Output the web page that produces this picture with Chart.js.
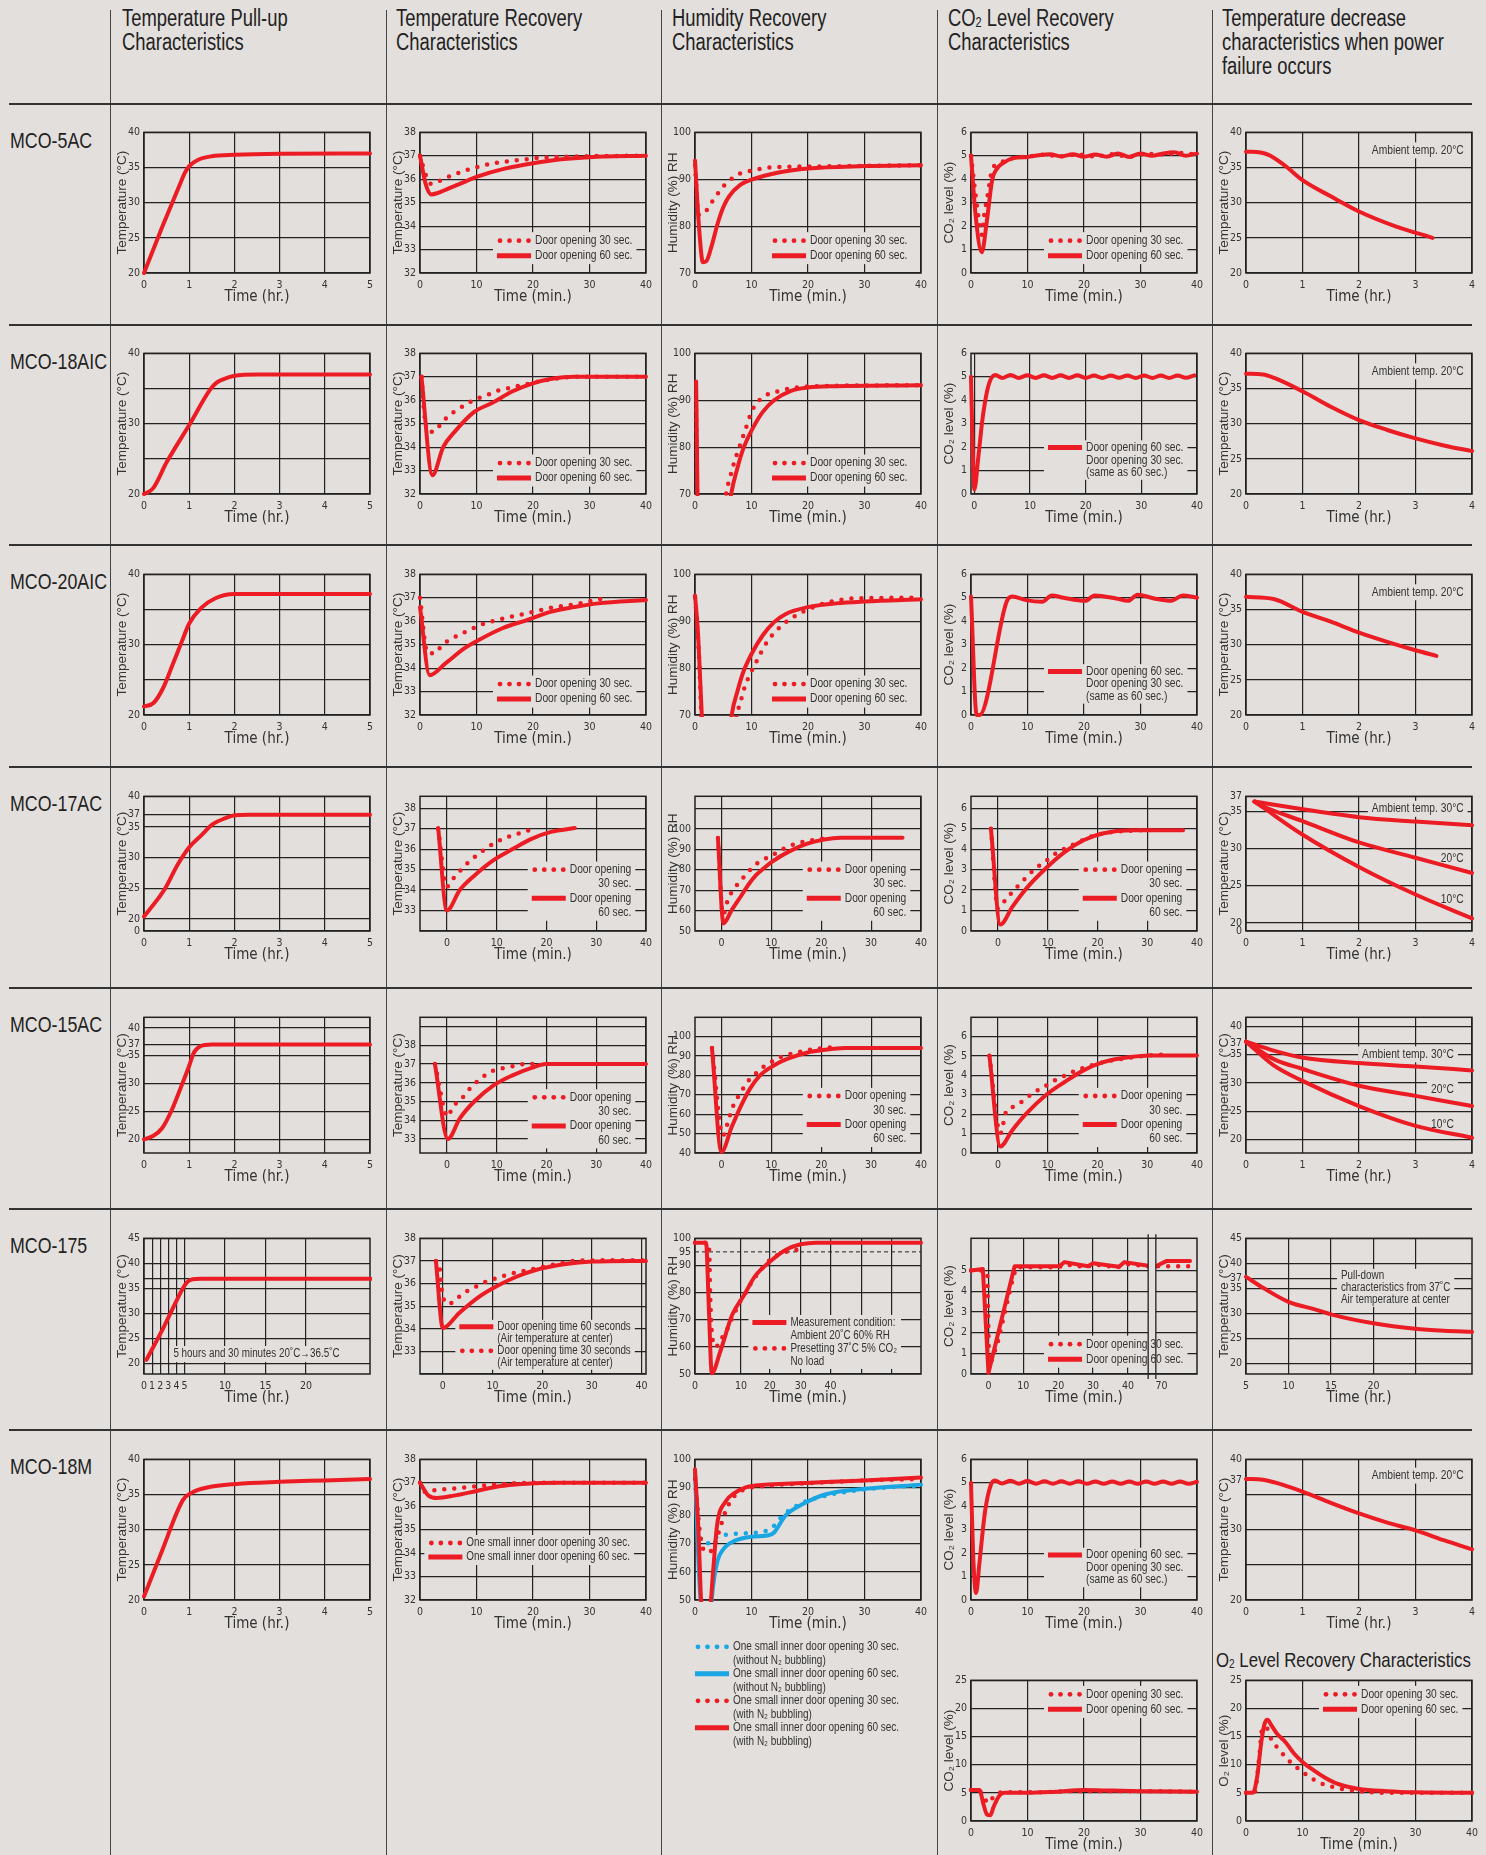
<!DOCTYPE html>
<html>
<head>
<meta charset="utf-8">
<title>MCO incubator characteristics</title>
<script src="https://cdn.jsdelivr.net/npm/chart.js@4.4.1/dist/chart.umd.min.js"></script>
<style>
  body { margin: 0; background: #e3dfdc; }
  #page { position: relative; width: 1486px; height: 1855px; overflow: hidden; color: #222;
          font-family: "Liberation Sans", Arial, sans-serif; }
  .hd { position: absolute; top: 6px; font-size: 23px; line-height: 24px; white-space: nowrap;
        transform: scaleX(0.8); transform-origin: 0 0; }
  .model { position: absolute; left: 10px; font-size: 22px; line-height: 24px; white-space: nowrap;
           transform: scaleX(0.81); transform-origin: 0 0; }
  .hl { position: absolute; left: 9px; width: 1463px; height: 2px; background: #333; }
  .vl { position: absolute; top: 10px; bottom: 0; width: 1px; background: #444; }
  canvas { position: absolute; }
  sub { font-size: 60%; vertical-align: -0.1em; line-height: 0; }
</style>
</head>
<body>
<div id="page">
  <div class="vl" style="left:110px"></div>
  <div class="vl" style="left:386px"></div>
  <div class="vl" style="left:661px"></div>
  <div class="vl" style="left:937px"></div>
  <div class="vl" style="left:1212px"></div>

  <div class="hl" style="top:103px"></div>
  <div class="hl" style="top:324px"></div>
  <div class="hl" style="top:544px"></div>
  <div class="hl" style="top:766px"></div>
  <div class="hl" style="top:987px"></div>
  <div class="hl" style="top:1208px"></div>
  <div class="hl" style="top:1429px"></div>

  <div class="hd" style="left:122px">Temperature Pull-up<br>Characteristics</div>
  <div class="hd" style="left:396px">Temperature Recovery<br>Characteristics</div>
  <div class="hd" style="left:672px">Humidity Recovery<br>Characteristics</div>
  <div class="hd" style="left:948px">CO<sub>2</sub> Level Recovery<br>Characteristics</div>
  <div class="hd" style="left:1222px">Temperature decrease<br>characteristics when power<br>failure occurs</div>
  <div class="hd" style="left:1216px; top:1648px; font-size:21px">O<sub>2</sub> Level Recovery Characteristics</div>

  <div class="model" style="top:129px">MCO-5AC</div>
  <div class="model" style="top:350px">MCO-18AIC</div>
  <div class="model" style="top:570px">MCO-20AIC</div>
  <div class="model" style="top:792px">MCO-17AC</div>
  <div class="model" style="top:1013px">MCO-15AC</div>
  <div class="model" style="top:1234px">MCO-175</div>
  <div class="model" style="top:1455px">MCO-18M</div>
</div>

<script>
// ---------- tick labels ----------
const hrTicks5 = [0, 1, 2, 3, 4, 5];
const hrLabels5 = ['0', '1', '2', '3', '4', '5'];
const hrTicks4 = [0, 1, 2, 3, 4];
const hrLabels4 = ['0', '1', '2', '3', '4'];
const minTicks = [0, 10, 20, 30, 40];
const minLabels = ['0', '10', '20', '30', '40'];
const tempTicks = [20, 25, 30, 35, 40];
const tempLabels = ['20', '25', '30', '35', '40'];
const tempLabelsSparse = ['20', '', '30', '', '40'];
const recTicks = [32, 33, 34, 35, 36, 37, 38];
const recLabels = ['32', '33', '34', '35', '36', '37', '38'];
const recLabelsNo32 = ['', '33', '34', '35', '36', '37', '38'];
const rhTicks = [70, 80, 90, 100];
const rhLabels = ['70', '80', '90', '100'];
const co2Ticks = [0, 1, 2, 3, 4, 5, 6];
const co2Labels = ['0', '1', '2', '3', '4', '5', '6'];

// ---------- MCO-5AC ----------
const ac5PullT = [0, 0.4, 0.8, 0.9, 1.0, 1.2, 1.5, 2, 3, 5];
const ac5PullY = [20, 26.5, 32.7, 34.2, 35.2, 36.1, 36.6, 36.8, 36.95, 37];
const ac5Rec60T = [0, 1, 2, 3, 5, 8, 10, 15, 20, 25, 30, 40];
const ac5Rec60Y = [37, 35.8, 35.35, 35.4, 35.6, 35.9, 36.1, 36.45, 36.68, 36.85, 36.94, 37];
const ac5Rec30T = [0, 1, 2, 3.8, 5.6, 7.5, 9.3, 11.1, 13, 15, 16.8, 18.8, 20.7, 25, 30, 40];
const ac5Rec30Y = [37, 36.2, 35.8, 35.96, 36.16, 36.33, 36.47, 36.58, 36.68, 36.74, 36.8, 36.85, 36.9, 36.95, 36.98, 37];
const ac5Hum60T = [0, 0.7, 1.4, 2, 3, 4, 5, 6, 8, 10, 15, 20, 30, 40];
const ac5Hum60Y = [94, 80, 72.3, 72.5, 76, 80.5, 84, 86.3, 88.8, 89.9, 91.5, 92.3, 92.8, 93];
const ac5Hum30T = [0, 0.66, 1.7, 2.8, 3.9, 5.1, 6.4, 8.1, 10, 12, 13.9, 20, 30, 40];
const ac5Hum30Y = [93, 82.4, 82.8, 84.8, 86.7, 88.6, 90, 91.3, 91.8, 92.3, 92.55, 92.7, 92.85, 93];
const ac5Co260T = [0, 0.8, 1.9, 2.8, 3.75, 4.6, 5.6, 7.5, 10, 12, 14, 16, 18, 20, 22, 24, 26, 28, 30, 32, 34, 36, 38, 40];
const ac5Co260Y = [5, 2.5, 0.88, 2.2, 3.97, 4.45, 4.68, 4.9, 4.95, 5.02, 5.06, 4.97, 5.06, 4.96, 5.05, 4.96, 5.1, 4.95, 5.1, 5.0, 5.1, 5.15, 5.0, 5.1];
const ac5Co230T = [0, 1.2, 1.9, 2.4, 2.8, 3.75, 5.2, 7.5, 10, 13, 16, 19, 22, 25, 28, 31, 34, 37, 40];
const ac5Co230Y = [5, 2.6, 1.63, 2.6, 3.1, 4.4, 4.7, 4.9, 4.97, 5.04, 4.98, 5.05, 4.97, 5.06, 4.96, 5.08, 5.05, 5.12, 5.05];
const ac5PwrT = [0, 0.1, 0.4, 0.7, 1.0, 1.5, 2.0, 2.66, 3.3];
const ac5PwrY = [37.25, 37.25, 36.8, 35.2, 33.2, 30.9, 28.75, 26.6, 25.0];

// ---------- MCO-18AIC ----------
const ai18PullT = [0, 0.2, 0.5, 1.0, 1.47, 1.6, 1.75, 2.0, 2.5, 5];
const ai18PullY = [20, 20.8, 24.5, 29.8, 34.9, 35.8, 36.3, 36.8, 37, 37];
const ai18Rec60T = [0.25, 2.2, 4.1, 6.2, 9.6, 12.9, 16.3, 19.7, 23.1, 27.3, 40];
const ai18Rec60Y = [37, 32.8, 34.0, 34.67, 35.5, 35.9, 36.37, 36.7, 36.9, 37, 37];
const ai18Rec30T = [0.3, 0.68, 0.93, 1.3, 2.4, 3.6, 5.1, 6.7, 8.3, 10, 11.7, 13.6, 15.5, 17.3, 19.3, 21.1, 24, 28, 40];
const ai18Rec30Y = [37, 35.6, 35.1, 34.65, 34.65, 34.95, 35.35, 35.6, 35.85, 36.06, 36.2, 36.4, 36.5, 36.6, 36.7, 36.8, 36.92, 37, 37];
const ai18Hum60T = [0.2, 0.6, 3, 6.4, 7.5, 8.5, 10, 12, 14, 17, 20, 25, 40];
const ai18Hum60Y = [94, 60, 40, 70, 75.5, 79.5, 83.5, 87.5, 90, 92, 92.7, 93, 93.2];
const ai18Hum30T = [0.2, 0.5, 3, 5.5, 6.2, 7, 8, 9, 10, 11, 12.5, 15, 18, 22, 40];
const ai18Hum30Y = [90, 62, 40, 70, 73.5, 77, 80.5, 84, 87.5, 89.5, 91, 92, 92.7, 93, 93.2];
const ai18Co2T = [-0.6, -0.3, 0, 0.7, 1.5, 2.4, 3.2, 3.8, 5, 6.5, 8, 9.5, 11, 12.5, 14, 15.5, 17, 18.5, 20, 21.5, 23, 24.5, 26, 27.5, 29, 30.5, 32, 33.5, 35, 36.5, 38, 39.5];
const ai18Co2Y = [5, 2, 0.19, 1.54, 3.26, 4.5, 5.0, 5.07, 4.95, 5.07, 4.95, 5.06, 4.95, 5.06, 4.95, 5.06, 4.95, 5.06, 4.95, 5.05, 4.95, 5.05, 4.96, 5.05, 4.95, 5.05, 4.95, 5.05, 4.95, 5.05, 4.96, 5.06];
const ai18PwrT = [0, 0.3, 0.5, 1, 1.5, 2, 2.5, 3, 3.5, 4];
const ai18PwrY = [37.1, 37, 36.5, 34.6, 32.4, 30.5, 29.1, 27.9, 26.9, 26.1];

// ---------- MCO-20AIC ----------
const ai20PullT = [0, 0.21, 0.42, 0.63, 0.84, 1.0, 1.26, 1.58, 2, 5];
const ai20PullY = [21.2, 21.7, 23.8, 27.1, 30.5, 33.0, 35.2, 36.6, 37.2, 37.2];
const ai20Rec60T = [0, 1.7, 4.5, 7.9, 10.4, 14.6, 18.9, 23.1, 27.3, 31.5, 40];
const ai20Rec60Y = [36.6, 33.7, 34.2, 34.85, 35.2, 35.7, 36.05, 36.4, 36.6, 36.76, 36.9];
const ai20Rec30T = [0, 1.3, 2.6, 3.9, 5.5, 7.2, 9, 10.7, 12.6, 14.5, 16.3, 18.2, 20, 21.9, 23.8, 25.8, 27.6, 29.6, 31.5, 33.4];
const ai20Rec30Y = [37, 34.67, 34.63, 34.98, 35.24, 35.45, 35.65, 35.84, 35.98, 36.1, 36.2, 36.3, 36.4, 36.5, 36.6, 36.66, 36.73, 36.83, 36.93, 37.0];
const ai20Hum60T = [0, 0.5, 1.2, 1.6, 4, 6.5, 7.5, 8.5, 10, 12, 14, 16, 20, 25, 30, 40];
const ai20Hum60Y = [95.5, 88, 70, 60, 40, 70, 75, 79, 83, 87, 89.8, 91.5, 93, 93.8, 94.2, 94.7];
const ai20Hum30T = [0, 0.6, 1.3, 4, 7.4, 8, 8.8, 9.8, 11, 12.4, 13.8, 16.3, 19.6, 23.5, 29, 40];
const ai20Hum30Y = [95, 85, 65, 40, 70, 72.5, 76, 78.8, 81.7, 84.9, 87.2, 90, 92.3, 94, 94.9, 95];
const ai20Co2T = [0, 1.0, 1.5, 6.3, 7.3, 9.7, 12.6, 14.3, 16.4, 20.2, 21.9, 25.7, 27.8, 29.5, 32.4, 35.4, 37.5, 40];
const ai20Co2Y = [5.05, 0, 0, 4.83, 5.05, 4.9, 4.83, 5.1, 5.0, 4.87, 5.1, 4.97, 4.87, 5.13, 4.97, 4.87, 5.1, 5.0];
const ai20PwrT = [0, 0.49, 0.99, 1.49, 1.99, 2.5, 3.0, 3.37];
const ai20PwrY = [36.8, 36.5, 34.7, 33.3, 31.75, 30.4, 29.2, 28.4];

// ---------- MCO-17AC ----------
const ac17PullT = [0, 0.32, 0.47, 0.74, 1.0, 1.26, 1.53, 1.79, 2.0, 2.3, 5];
const ac17PullY = [20.4, 23.4, 25, 28.8, 31.7, 33.6, 35.5, 36.4, 36.9, 37, 37];
const ac17Rec60T = [-1.75, 0, 2.6, 5.5, 9.3, 13.2, 17, 20.9, 25.7];
const ac17Rec60Y = [37.03, 33, 34, 34.7, 35.45, 36.0, 36.5, 36.84, 37.03];
const ac17Rec30T = [-1.75, 0, 1.4, 2.9, 4.3, 6, 7.7, 9.6, 11.7, 13.6, 15.8, 17.8];
const ac17Rec30Y = [37, 34.17, 34.6, 35.0, 35.35, 35.7, 36.0, 36.3, 36.55, 36.7, 36.87, 37.0];
const ac17Hum60T = [-0.7, 0.4, 2, 3.9, 5.5, 6.8, 8.5, 10.1, 13.4, 17.2, 20.6, 23.9, 36.3];
const ac17Hum60Y = [95.5, 53.7, 60, 67, 73, 77, 80.7, 83.8, 88.7, 92.7, 94.8, 95.6, 95.6];
const ac17Hum30T = [-0.7, 0.3, 1.4, 2.5, 4, 5.4, 6.8, 8.5, 10.1, 12.5, 14.6, 16.8, 19.1, 21];
const ac17Hum30Y = [95.5, 58, 66, 70.5, 75, 79, 82.5, 85, 87, 90.3, 92.4, 93.8, 94.8, 95.3];
const ac17Co260T = [-1.4, 0.5, 2.9, 5.7, 9.6, 13.4, 17.2, 21, 26.7, 37.2];
const ac17Co260Y = [5.0, 0.32, 1.18, 2.07, 3.05, 3.85, 4.43, 4.76, 4.92, 4.92];
const ac17Co230T = [-1.4, 0, 1.6, 3.1, 4.6, 6.1, 7.6, 9.4, 11.2, 13.2, 15.1, 17, 19.1, 21.2, 23.3, 25.4, 28, 32];
const ac17Co230Y = [5.0, 1.1, 1.54, 1.95, 2.35, 2.72, 3.07, 3.37, 3.72, 4.0, 4.22, 4.43, 4.64, 4.76, 4.84, 4.88, 4.92, 4.93];
const ac17Pwr30T = [0.15, 0.95, 2, 3, 4];
const ac17Pwr30Y = [36.3, 35.33, 34.2, 33.6, 33.1];
const ac17Pwr20T = [0.15, 0.32, 0.99, 2, 3, 4];
const ac17Pwr20Y = [36.3, 35.6, 33.7, 30.8, 28.75, 26.7];
const ac17Pwr10T = [0.15, 0.32, 0.99, 2, 3, 4];
const ac17Pwr10Y = [36.3, 35.4, 31.9, 27.5, 23.8, 20.6];

// ---------- MCO-15AC ----------
const ac15PullT = [0, 0.2, 0.4, 0.6, 0.8, 1.0, 1.1, 1.25, 1.5, 5];
const ac15PullY = [20, 20.6, 22, 25, 29, 33.2, 35.5, 36.7, 37, 37];
const ac15Rec60T = [-2.4, 0.2, 2.6, 5.5, 9.3, 13.2, 17, 19.9, 40];
const ac15Rec60Y = [37, 33.0, 34.1, 35.0, 35.85, 36.4, 36.8, 37.0, 37.0];
const ac15Rec30T = [-2.4, 0.2, 1.1, 2.8, 4.3, 5.8, 7.4, 9.3, 11.5, 13.6, 15.8, 17.9];
const ac15Rec30Y = [37, 34.2, 34.7, 35.1, 35.6, 36.0, 36.35, 36.65, 36.8, 36.9, 37.0, 37.0];
const ac15Hum60T = [-1.9, 0, 2, 3.8, 5.7, 7.6, 10.5, 13.3, 17.1, 20, 24.8, 40];
const ac15Hum60Y = [94, 40.5, 53, 63.6, 73, 79.6, 85, 88.5, 91.6, 92.8, 94, 94];
const ac15Hum30T = [-1.9, 0.3, 1.3, 1.9, 2.7, 3.9, 4.9, 6.5, 8.1, 10, 11.9, 14, 16.2, 18.3, 20.5, 22.6];
const ac15Hum30Y = [94, 49, 55.9, 61, 66.2, 71, 75.6, 79.9, 83.7, 86.8, 89.4, 91.1, 92.3, 93.3, 94, 94.5];
const ac15Co260T = [-1.7, 0.5, 2.9, 5.7, 9.6, 13.4, 17.2, 21, 26.7, 30.5, 40];
const ac15Co260Y = [5.0, 0.34, 1.17, 2.02, 2.97, 3.65, 4.25, 4.66, 4.94, 5.02, 5.02];
const ac15Co230T = [-1.7, 0.5, 1.6, 3.5, 5.4, 7.1, 9, 10.8, 12.7, 14.6, 16.7, 18.8, 21, 23.1, 25.3, 27.5, 29.6, 32, 34];
const ac15Co230Y = [5.0, 1.0, 2.08, 2.42, 2.74, 3.1, 3.36, 3.65, 3.88, 4.13, 4.34, 4.51, 4.65, 4.77, 4.85, 4.94, 5.0, 5.05, 5.07];
const ac15Pwr30T = [0, 0.49, 0.99, 2, 3, 4];
const ac15Pwr30Y = [37.3, 35.7, 34.5, 33.5, 32.9, 32.2];
const ac15Pwr20T = [0, 0.49, 0.99, 2, 3, 4];
const ac15Pwr20Y = [37.3, 34.2, 32.5, 29.5, 27.7, 25.9];
const ac15Pwr10T = [0, 0.49, 0.99, 2, 3, 4];
const ac15Pwr10Y = [37.3, 33.1, 30.4, 25.9, 22.4, 20.3];

// ---------- MCO-175 ----------
const m175PullT = [0.3, 2.2, 4.1, 4.8, 5.3, 6, 7, 28];
const m175PullY = [20.7, 26.5, 32.8, 35, 36.2, 36.8, 36.9, 36.9];
const m175Rec60T = [-1.4, 0, 3.3, 7.2, 11, 14.8, 18.7, 24.4, 30.1, 40.9];
const m175Rec60Y = [37, 34.03, 34.7, 35.4, 35.9, 36.3, 36.6, 36.85, 36.97, 37];
const m175Rec30T = [-1.4, -0.7, -0.2, 0.4, 1.2, 3.2, 5.1, 7, 8.9, 11, 13.1, 15.1, 17.2, 19.4, 21.5, 23.9, 26.3, 30, 35, 40.9];
const m175Rec30Y = [37, 36.75, 35.7, 35.2, 35.1, 35.4, 35.7, 35.9, 36.1, 36.25, 36.4, 36.5, 36.6, 36.7, 36.8, 36.9, 37, 37.02, 37.03, 37.03];
// humidity axis runs in chart-position units (the original stretches 0-10 min)
const m175Hum60T = [0, 2.4, 3.0, 3.65, 5.5, 8.1, 10.7, 13, 16.3, 19.7, 23, 26.4, 49.2];
const m175Hum60Y = [98.4, 98.4, 75, 50.3, 58.3, 71.8, 79.1, 85.9, 91.4, 95.7, 97.8, 98.4, 98.4];
const m175Hum30T = [0, 2.6, 3.1, 3.3, 3.8, 4.6, 5.5, 6.6, 7.6, 8.6, 9.6, 11, 12.4, 14.2, 16.3, 18.3, 20.7, 22.5];
const m175Hum30Y = [98.4, 98.4, 95.5, 80, 63, 60, 62.6, 65, 68.7, 72.4, 76, 79.8, 84, 88, 92, 94.1, 95.3, 95.8];
const m175HumRefT = [0, 49.2];
const m175HumRefY = [95, 95];
const m175Co260T = [-5, -1.6, 0, 7.5, 20.3, 21.8, 28.6, 30, 37.4, 39, 45.8, 48, 51, 57.8];
const m175Co260Y = [5, 5.07, 0.05, 5.2, 5.2, 5.4, 5.2, 5.35, 5.18, 5.4, 5.23, 5.2, 5.45, 5.45];
const m175Co230T = [-5, -1.2, -0.3, 0.2, 2.7, 7.1, 8, 20, 22, 28, 30, 37, 40, 45.8, 48, 51, 58];
const m175Co230Y = [5, 5, 4.8, 0.3, 1.55, 4.68, 5.15, 5.15, 5.3, 5.15, 5.3, 5.15, 5.3, 5.2, 5.2, 5.2, 5.2];
const m175PwrT = [5, 7.1, 10, 13.3, 15, 20, 24.9, 28.3, 31.6];
const m175PwrY = [37.3, 35, 32.3, 30.7, 29.8, 28, 26.9, 26.5, 26.3];

// ---------- MCO-18M ----------
const m18PullT = [0, 0.4, 0.86, 1.07, 1.4, 2.04, 3, 4, 5];
const m18PullY = [20.5, 27, 34.2, 35.3, 36.0, 36.5, 36.8, 37.0, 37.2];
const m18Rec60T = [0, 1.5, 3, 6, 10, 14, 18, 25, 40];
const m18Rec60Y = [37, 36.45, 36.35, 36.45, 36.65, 36.85, 36.95, 37, 37];
const m18Rec30T = [0, 1, 3, 6, 10, 15, 20, 40];
const m18Rec30Y = [37, 36.6, 36.7, 36.75, 36.85, 36.95, 37, 37];
const m18HumRed60T = [0, 0.6, 1.2, 1.8, 2.6, 3.2, 3.9, 5.4, 7.1, 9, 11.25, 15, 19.6, 30, 40];
const m18HumRed60Y = [96.5, 75, 45, 40, 45, 60, 76.5, 84.9, 88.2, 90, 90.8, 91.2, 91.6, 92.5, 93.5];
const m18HumRed30T = [0, 0.8, 1.5, 2.5, 3.5, 4.5, 5.5, 7, 9, 12, 20, 30, 40];
const m18HumRed30Y = [93, 75, 68, 67, 70, 76, 82, 87, 89.5, 90.5, 91.5, 92.5, 93];
const m18HumBlue60T = [0, 1, 2.5, 3.2, 4, 5, 7, 10, 13, 14, 16, 19, 23, 30, 40];
const m18HumBlue60Y = [95, 50, 42, 55, 64, 68, 71, 72.5, 73, 74, 80, 84, 87.5, 89.5, 91];
const m18HumBlue30T = [0, 1, 2, 4, 7, 11, 13.5, 15.5, 19, 23, 28, 34, 40];
const m18HumBlue30Y = [93, 72, 70, 72.5, 73.5, 74, 75.5, 80, 84.5, 87, 88.8, 90, 90.5];
const m18Co2T = [0, 0.4, 0.9, 1.5, 2.5, 3.5, 4.2, 5.5, 7, 8.5, 10, 11.5, 13, 14.5, 16, 17.5, 19, 20.5, 22, 23.5, 25, 26.5, 28, 29.5, 31, 32.5, 34, 35.5, 37, 38.5, 40];
const m18Co2Y = [5.0, 1.8, 0.3, 1.6, 3.8, 4.9, 5.1, 4.97, 5.08, 4.96, 5.07, 4.96, 5.06, 4.96, 5.06, 4.96, 5.06, 4.96, 5.05, 4.96, 5.05, 4.96, 5.05, 4.96, 5.05, 4.96, 5.05, 4.96, 5.05, 4.96, 5.04];
const m18PwrT = [0, 0.3, 0.6, 1, 1.5, 2, 2.5, 3, 3.5, 4];
const m18PwrY = [37.2, 37.1, 36.5, 35.4, 33.8, 32.3, 31, 29.9, 28.5, 27.2];
const m18Co2bT60 = [0, 1.5, 2.2, 2.8, 3.4, 4, 5, 6, 10, 15, 20, 25, 30, 40];
const m18Co2bY60 = [5.5, 5.5, 3, 1.2, 1.0, 2.5, 4.5, 5, 5, 5.2, 5.5, 5.4, 5.3, 5.2];
const m18Co2bT30 = [0, 1.5, 2.5, 3.2, 4, 5, 6, 10, 20, 30, 40];
const m18Co2bY30 = [5.5, 5.3, 3.8, 3.2, 4.4, 5, 5.1, 5.1, 5.3, 5.3, 5.2];
const m18O2T60 = [0, 1.2, 2, 2.7, 3.3, 3.8, 4.5, 5.5, 7, 8.5, 10, 12, 14, 16, 20, 25, 30, 40];
const m18O2Y60 = [5, 5, 8, 14, 17.3, 18, 17, 15.5, 14, 12, 10.5, 9, 7.7, 6.7, 5.7, 5.3, 5.1, 5];
const m18O2T30 = [0, 1.5, 2.3, 2.9, 3.5, 4.5, 6, 7.5, 9, 11, 13, 16, 20, 25, 40];
const m18O2Y30 = [5, 5, 11, 16.5, 16.7, 14.5, 12.5, 10.8, 9.5, 8, 6.8, 5.9, 5.3, 5, 5];

// ---------- styling ----------
const RED = '#ec1c24', BLUE = '#19a6e2', INK = '#222', TXT = '#333', BG = '#e3dfdc';
const NARROW = '"DejaVu Sans Condensed", "Liberation Sans Narrow", sans-serif';
const SANS = '"Liberation Sans", Arial, sans-serif';
const SQUEEZE = 0.82;   // horizontal squeeze for the condensed note text
const COLS = [110, 386, 661, 937, 1212];
const TEMP = 'Temperature (°C)', HUM = 'Humidity (%) RH', CO2L = 'CO₂ level (%)', O2L = 'O₂ level (%)';
const HRS = 'Time (hr.)', MINS = 'Time (min.)';

function pts(xs, ys) { return xs.map((x, i) => ({ x: x, y: ys[i] })); }
function ser(xs, ys, kind, color, sharp) {
  const ds = { data: pts(xs, ys), borderColor: color, pointRadius: 0, fill: false, clip: 2,
    borderCapStyle: 'round', borderJoinStyle: 'round' };
  if (sharp) ds.tension = 0; else ds.cubicInterpolationMode = 'monotone';
  if (kind === 'dot') { ds.borderWidth = 4.5; ds.borderDash = [0, 10]; }
  else if (kind === 'dash') { ds.borderWidth = 1; ds.borderDash = [4, 3]; ds.borderCapStyle = 'butt'; }
  else ds.borderWidth = 4;
  return ds;
}
const red = (xs, ys, sharp) => ser(xs, ys, 'solid', RED, sharp);
const redDot = (xs, ys, sharp) => ser(xs, ys, 'dot', RED, sharp);
const blue = (xs, ys) => ser(xs, ys, 'solid', BLUE);
const blueDot = (xs, ys) => ser(xs, ys, 'dot', BLUE);
const refLine = (xs, ys) => ser(xs, ys, 'dash', INK, true);

function ax(min, max, ticks, labels, title, noGrid) {
  return { min, max, ticks, labels, title, noGrid: noGrid || [] };
}
function scaleOpts(a, horizontal) {
  return {
    type: 'linear', min: a.min, max: a.max,
    afterBuildTicks: s => { s.ticks = a.ticks.map(v => ({ value: v })); },
    afterFit: s => { if (horizontal) s.height = 40; else s.width = 34; },
    ticks: { autoSkip: false, maxRotation: 0, minRotation: 0, padding: horizontal ? 6 : 4, color: TXT,
      font: { family: NARROW, size: 10.5 }, callback: (v, i) => a.labels[i] },
    grid: { drawTicks: false, lineWidth: 1.2,
      color: c => (c.tick && a.noGrid.includes(c.tick.value)) ? 'rgba(0,0,0,0)' : INK },
    border: { display: false },
    title: { display: true, text: a.title, color: TXT,
      font: horizontal ? { family: NARROW, size: 15 } : { family: SANS, size: 13.5 },
      padding: horizontal ? { top: 0, bottom: 7 } : { top: 4, bottom: 0 } }
  };
}

// legend / annotation boxes
const legStd = y => ({ x: 0.94, y, anchor: 'right', lh: 15, indent: true,
  lines: [{ s: 'dot', t: 'Door opening 30 sec.' }, { s: 'solid', t: 'Door opening 60 sec.' }] });
const legSame = y => ({ x: 0.94, y, anchor: 'right', lh: 12.5, indent: true,
  lines: [{ s: 'solid', t: 'Door opening 60 sec.' }, { t: 'Door opening 30 sec.' }, { t: '(same as 60 sec.)' }] });
const legSplit = y => ({ x: 0.935, y, anchor: 'right', lh: 14.3, indent: true,
  lines: [{ s: 'dot', t: 'Door opening' }, { t: '30 sec.', al: 'right' }, { s: 'solid', t: 'Door opening' }, { t: '60 sec.', al: 'right' }] });
const txt = (t, x, y, anchor) => ({ x, y, anchor: anchor || 'right', lines: [{ t }] });

function drawSample(ctx, x, y, s, c) {
  ctx.save();
  ctx.fillStyle = c; ctx.strokeStyle = c;
  if (s === 'dot') {
    for (let k = 0; k < 4; k++) { ctx.beginPath(); ctx.arc(x + 3 + k * 9.5, y, 2.4, 0, Math.PI * 2); ctx.fill(); }
  } else {
    ctx.lineWidth = 5; ctx.beginPath(); ctx.moveTo(x, y); ctx.lineTo(x + 34, y); ctx.stroke();
  }
  ctx.restore();
}
function narrowText(ctx, t, x, y, align) {
  ctx.save();
  ctx.translate(x, y); ctx.scale(SQUEEZE, 1);
  ctx.textAlign = align; ctx.textBaseline = 'middle'; ctx.fillStyle = TXT;
  ctx.fillText(t, 0, 0);
  ctx.restore();
}
// mode: 'all' | 'box' (background + samples) | 'text'
function drawNote(ctx, a, n, mode) {
  const W = a.right - a.left, H = a.bottom - a.top;
  const size = n.size || 12.5, lh = n.lh || 14;
  ctx.font = size + 'px ' + SANS;
  const ind = n.indent ? 38 : 0;
  const tw = Math.max(...n.lines.map(l => ctx.measureText(l.t).width)) * SQUEEZE;
  const bw = ind + tw;
  const x0 = n.anchor === 'right' ? a.left + n.x * W - bw : a.left + n.x * W;
  const y0 = a.top + n.y * H;
  if (n.bg !== false && mode !== 'text') {
    ctx.fillStyle = BG;
    ctx.fillRect(x0 - 4, y0 - lh / 2 - 1, bw + 8, lh * n.lines.length + 2);
  }
  n.lines.forEach((l, i) => {
    const cy = y0 + i * lh;
    if (l.s && mode !== 'text') drawSample(ctx, x0, cy, l.s, l.c || RED);
    if (mode === 'box') return;
    if (l.al === 'right') narrowText(ctx, l.t, x0 + bw, cy, 'right');
    else narrowText(ctx, l.t, x0 + ind, cy, 'left');
  });
}

const paper = {
  id: 'paper',
  beforeDatasetsDraw(chart) {
    const spec = chart.canvas.spec, a = chart.chartArea, ctx = chart.ctx;
    ctx.save();
    (spec.notes || []).forEach(n => drawNote(ctx, a, n, spec.breaks ? 'box' : 'all'));
    ctx.strokeStyle = INK; ctx.lineWidth = 1.5;
    ctx.strokeRect(a.left, a.top, a.right - a.left, a.bottom - a.top);
    ctx.restore();
  },
  afterDatasetsDraw(chart) {
    const spec = chart.canvas.spec;
    if (!spec.breaks) return;
    const a = chart.chartArea, ctx = chart.ctx, xs = chart.scales.x;
    const x1 = xs.getPixelForValue(spec.breaks[0]), x2 = xs.getPixelForValue(spec.breaks[1]);
    ctx.save();
    ctx.fillStyle = BG;
    ctx.fillRect(x1, a.top + 1, x2 - x1, a.bottom - a.top - 2);
    ctx.strokeStyle = INK; ctx.lineWidth = 1.3;
    [x1, x2].forEach(x => { ctx.beginPath(); ctx.moveTo(x, a.top - 4); ctx.lineTo(x, a.bottom + 5); ctx.stroke(); });
    (spec.notes || []).forEach(n => drawNote(ctx, a, n, 'text'));
    ctx.restore();
  }
};

// ---------- chart list ----------
const T = [132, 353, 574, 796, 1017, 1238, 1459];
const charts = [
  // MCO-5AC
  { col: 0, top: T[0], h: 141, x: ax(0, 5, hrTicks5, hrLabels5, HRS), y: ax(20, 40, tempTicks, tempLabels, TEMP),
    series: [red(ac5PullT, ac5PullY)] },
  { col: 1, top: T[0], h: 141, x: ax(0, 40, minTicks, minLabels, MINS), y: ax(32, 38, recTicks, recLabels, TEMP),
    series: [redDot(ac5Rec30T, ac5Rec30Y), red(ac5Rec60T, ac5Rec60Y)], notes: [legStd(0.77)] },
  { col: 2, top: T[0], h: 141, x: ax(0, 40, minTicks, minLabels, MINS), y: ax(70, 100, rhTicks, rhLabels, HUM),
    series: [redDot(ac5Hum30T, ac5Hum30Y), red(ac5Hum60T, ac5Hum60Y)], notes: [legStd(0.77)] },
  { col: 3, top: T[0], h: 141, x: ax(0, 40, minTicks, minLabels, MINS), y: ax(0, 6, co2Ticks, co2Labels, CO2L),
    series: [redDot(ac5Co230T, ac5Co230Y), red(ac5Co260T, ac5Co260Y)], notes: [legStd(0.77)] },
  { col: 4, top: T[0], h: 141, x: ax(0, 4, hrTicks4, hrLabels4, HRS), y: ax(20, 40, tempTicks, tempLabels, TEMP),
    series: [red(ac5PwrT, ac5PwrY)], notes: [txt('Ambient temp. 20°C', 0.963, 0.128)] },

  // MCO-18AIC
  { col: 0, top: T[1], h: 141, x: ax(0, 5, hrTicks5, hrLabels5, HRS), y: ax(20, 40, tempTicks, tempLabelsSparse, TEMP),
    series: [red(ai18PullT, ai18PullY)] },
  { col: 1, top: T[1], h: 141, x: ax(0, 40, minTicks, minLabels, MINS), y: ax(32, 38, recTicks, recLabels, TEMP),
    series: [redDot(ai18Rec30T, ai18Rec30Y), red(ai18Rec60T, ai18Rec60Y)], notes: [legStd(0.78)] },
  { col: 2, top: T[1], h: 141, x: ax(0, 40, minTicks, minLabels, MINS), y: ax(70, 100, rhTicks, rhLabels, HUM),
    series: [redDot(ai18Hum30T, ai18Hum30Y), red(ai18Hum60T, ai18Hum60Y)], notes: [legStd(0.78)] },
  { col: 3, top: T[1], h: 141, x: ax(-0.6, 40, minTicks, minLabels, MINS), y: ax(0, 6, co2Ticks, co2Labels, CO2L),
    series: [red(ai18Co2T, ai18Co2Y)], notes: [legSame(0.67)] },
  { col: 4, top: T[1], h: 141, x: ax(0, 4, hrTicks4, hrLabels4, HRS), y: ax(20, 40, tempTicks, tempLabels, TEMP),
    series: [red(ai18PwrT, ai18PwrY)], notes: [txt('Ambient temp. 20°C', 0.963, 0.128)] },

  // MCO-20AIC
  { col: 0, top: T[2], h: 141, x: ax(0, 5, hrTicks5, hrLabels5, HRS), y: ax(20, 40, tempTicks, tempLabelsSparse, TEMP),
    series: [red(ai20PullT, ai20PullY)] },
  { col: 1, top: T[2], h: 141, x: ax(0, 40, minTicks, minLabels, MINS), y: ax(32, 38, recTicks, recLabels, TEMP),
    series: [redDot(ai20Rec30T, ai20Rec30Y), red(ai20Rec60T, ai20Rec60Y)], notes: [legStd(0.78)] },
  { col: 2, top: T[2], h: 141, x: ax(0, 40, minTicks, minLabels, MINS), y: ax(70, 100, rhTicks, rhLabels, HUM),
    series: [redDot(ai20Hum30T, ai20Hum30Y), red(ai20Hum60T, ai20Hum60Y)], notes: [legStd(0.78)] },
  { col: 3, top: T[2], h: 141, x: ax(0, 40, minTicks, minLabels, MINS), y: ax(0, 6, co2Ticks, co2Labels, CO2L),
    series: [red(ai20Co2T, ai20Co2Y)], notes: [legSame(0.69)] },
  { col: 4, top: T[2], h: 141, x: ax(0, 4, hrTicks4, hrLabels4, HRS), y: ax(20, 40, tempTicks, tempLabels, TEMP),
    series: [red(ai20PwrT, ai20PwrY)], notes: [txt('Ambient temp. 20°C', 0.963, 0.128)] },

  // MCO-17AC
  { col: 0, top: T[3], h: 135, x: ax(0, 5, hrTicks5, hrLabels5, HRS),
    y: ax(18.05, 40, [18.05, 20, 25, 30, 35, 37, 40], ['0', '20', '25', '30', '35', '37', '40'], TEMP),
    series: [red(ac17PullT, ac17PullY)] },
  { col: 1, top: T[3], h: 135, x: ax(-5.4, 40, minTicks, minLabels, MINS), y: ax(32, 38.58, recTicks, recLabelsNo32, TEMP),
    series: [redDot(ac17Rec30T, ac17Rec30Y), red(ac17Rec60T, ac17Rec60Y)], notes: [legSplit(0.545)] },
  { col: 2, top: T[3], h: 135, x: ax(-5.3, 40, minTicks, minLabels, MINS),
    y: ax(50, 115.9, [50, 60, 70, 80, 90, 100, 110], ['50', '60', '70', '80', '90', '100', ''], HUM),
    series: [redDot(ac17Hum30T, ac17Hum30Y), red(ac17Hum60T, ac17Hum60Y)], notes: [legSplit(0.545)] },
  { col: 3, top: T[3], h: 135, x: ax(-5.4, 40, minTicks, minLabels, MINS), y: ax(0, 6.58, co2Ticks, co2Labels, CO2L),
    series: [redDot(ac17Co230T, ac17Co230Y), red(ac17Co260T, ac17Co260Y)], notes: [legSplit(0.545)] },
  { col: 4, top: T[3], h: 135, x: ax(0, 4, hrTicks4, hrLabels4, HRS),
    y: ax(18.9, 37, [18.9, 20, 25, 30, 35, 37], ['0', '20', '25', '30', '35', '37'], TEMP),
    series: [red(ac17Pwr30T, ac17Pwr30Y), red(ac17Pwr20T, ac17Pwr20Y), red(ac17Pwr10T, ac17Pwr10Y)],
    notes: [txt('Ambient temp. 30°C', 0.963, 0.093), txt('20°C', 0.963, 0.46), txt('10°C', 0.963, 0.77)] },

  // MCO-15AC
  { col: 0, top: T[4], h: 136, x: ax(0, 5, hrTicks5, hrLabels5, HRS),
    y: ax(17.55, 41.9, [20, 25, 30, 35, 37, 40], ['20', '25', '30', '35', '37', '40'], TEMP),
    series: [red(ac15PullT, ac15PullY)] },
  { col: 1, top: T[4], h: 136, x: ax(-5.4, 40, minTicks, minLabels, MINS),
    y: ax(32.25, 39.5, [33, 34, 35, 36, 37, 38, 39], ['33', '34', '35', '36', '37', '38', ''], TEMP),
    series: [redDot(ac15Rec30T, ac15Rec30Y), red(ac15Rec60T, ac15Rec60Y)], notes: [legSplit(0.59)] },
  { col: 2, top: T[4], h: 136, x: ax(-5.3, 40, minTicks, minLabels, MINS),
    y: ax(40, 109.8, [40, 50, 60, 70, 80, 90, 100], ['40', '50', '60', '70', '80', '90', '100'], HUM),
    series: [redDot(ac15Hum30T, ac15Hum30Y), red(ac15Hum60T, ac15Hum60Y)], notes: [legSplit(0.58)] },
  { col: 3, top: T[4], h: 136, x: ax(-5.4, 40, minTicks, minLabels, MINS), y: ax(0, 6.98, co2Ticks, co2Labels, CO2L),
    series: [redDot(ac15Co230T, ac15Co230Y), red(ac15Co260T, ac15Co260Y)], notes: [legSplit(0.58)] },
  { col: 4, top: T[4], h: 136, x: ax(0, 4, hrTicks4, hrLabels4, HRS),
    y: ax(17.6, 41.6, [20, 25, 30, 35, 37, 40], ['20', '25', '30', '35', '37', '40'], TEMP),
    series: [red(ac15Pwr30T, ac15Pwr30Y), red(ac15Pwr20T, ac15Pwr20Y), red(ac15Pwr10T, ac15Pwr10Y)],
    notes: [txt('Ambient temp. 30°C', 0.92, 0.273), txt('20°C', 0.92, 0.53), txt('10°C', 0.92, 0.79)] },

  // MCO-175
  { col: 0, top: T[5], h: 136,
    x: ax(0, 27.9, [0, 1, 2, 3, 4, 5, 10, 15, 20], ['0', '1', '2', '3', '4', '5', '10', '15', '20'], HRS),
    y: ax(17.87, 45, [20, 25, 30, 35, 37, 40, 45], ['20', '25', '30', '35', '', '40', '45'], TEMP),
    series: [red(m175PullT, m175PullY)],
    notes: [{ x: 0.13, y: 0.853, anchor: 'left', size: 12, lines: [{ t: '5 hours and 30 minutes 20˚C→36.5˚C' }] }] },
  { col: 1, top: T[5], h: 136, x: ax(-4.6, 40.9, minTicks, minLabels, MINS), y: ax(32, 38, recTicks, recLabelsNo32, TEMP),
    series: [redDot(m175Rec30T, m175Rec30Y), red(m175Rec60T, m175Rec60Y)],
    notes: [{ x: 0.174, y: 0.652, anchor: 'left', size: 12, lh: 12, indent: true,
      lines: [{ s: 'solid', t: 'Door opening time 60 seconds' }, { t: '(Air temperature at center)' },
              { s: 'dot', t: 'Door opening time 30 seconds' }, { t: '(Air temperature at center)' }] }] },
  { col: 2, top: T[5], h: 136,
    x: ax(0, 49.2, [0, 10, 16.3, 23, 29.5, 36.2, 42.7], ['0', '10', '20', '30', '40', '', ''], MINS),
    y: ax(50, 100, [50, 60, 70, 80, 90, 95, 100], ['50', '60', '70', '80', '90', '95', '100'], HUM, [95]),
    series: [redDot(m175Hum30T, m175Hum30Y), red(m175Hum60T, m175Hum60Y), refLine(m175HumRefT, m175HumRefY)],
    notes: [{ x: 0.254, y: 0.62, anchor: 'left', size: 12, lh: 13, indent: true,
      lines: [{ s: 'solid', t: 'Measurement condition:' }, { t: 'Ambient 20˚C 60% RH' },
              { s: 'dot', t: 'Presetting 37˚C 5% CO₂' }, { t: 'No load' }] }] },
  { col: 3, top: T[5], h: 136,
    x: ax(-5, 59.8, [0, 10, 20, 30, 40, 49.6], ['0', '10', '20', '30', '40', '70'], MINS, [49.6]),
    y: ax(0, 6.55, [0, 1, 2, 3, 4, 5], ['0', '1', '2', '3', '4', '5'], CO2L),
    series: [redDot(m175Co230T, m175Co230Y, true), red(m175Co260T, m175Co260Y, true)],
    breaks: [45.8, 48], notes: [legStd(0.78)] },
  { col: 4, top: T[5], h: 136,
    x: ax(5, 31.6, [5, 10, 15, 20, 25], ['5', '10', '15', '20', ''], HRS),
    y: ax(17.87, 45, [20, 25, 30, 35, 37, 40, 45], ['20', '25', '30', '35', '37', '40', '45'], TEMP),
    series: [red(m175PwrT, m175PwrY)],
    notes: [{ x: 0.42, y: 0.277, anchor: 'left', size: 12, lh: 12,
      lines: [{ t: 'Pull-down' }, { t: 'characteristics from 37˚C' }, { t: 'Air temperature at center' }] }] },

  // MCO-18M
  { col: 0, top: T[6], h: 141, x: ax(0, 5, hrTicks5, hrLabels5, HRS), y: ax(20, 40, tempTicks, tempLabels, TEMP),
    series: [red(m18PullT, m18PullY)] },
  { col: 1, top: T[6], h: 141, x: ax(0, 40, minTicks, minLabels, MINS), y: ax(32, 38, recTicks, recLabels, TEMP),
    series: [redDot(m18Rec30T, m18Rec30Y), red(m18Rec60T, m18Rec60Y)],
    notes: [{ x: 0.037, y: 0.595, anchor: 'left', size: 12, lh: 14, indent: true,
      lines: [{ s: 'dot', t: 'One small inner door opening 30 sec.' }, { s: 'solid', t: 'One small inner door opening 60 sec.' }] }] },
  { col: 2, top: T[6], h: 141, extra: 150, x: ax(0, 40, minTicks, minLabels, MINS),
    y: ax(50, 100, [50, 60, 70, 80, 90, 100], ['50', '60', '70', '80', '90', '100'], HUM),
    series: [red(m18HumRed60T, m18HumRed60Y), redDot(m18HumRed30T, m18HumRed30Y),
             blue(m18HumBlue60T, m18HumBlue60Y), blueDot(m18HumBlue30T, m18HumBlue30Y)],
    notes: [{ x: 0, y: 1.333, anchor: 'left', size: 12.2, lh: 13.5, indent: true, bg: false,
      lines: [{ s: 'dot', c: BLUE, t: 'One small inner door opening 30 sec.' }, { t: '(without N₂ bubbling)' },
              { s: 'solid', c: BLUE, t: 'One small inner door opening 60 sec.' }, { t: '(without N₂ bubbling)' },
              { s: 'dot', t: 'One small inner door opening 30 sec.' }, { t: '(with N₂ bubbling)' },
              { s: 'solid', t: 'One small inner door opening 60 sec.' }, { t: '(with N₂ bubbling)' }] }] },
  { col: 3, top: T[6], h: 141, x: ax(0, 40, minTicks, minLabels, MINS), y: ax(0, 6, co2Ticks, co2Labels, CO2L),
    series: [red(m18Co2T, m18Co2Y)], notes: [legSame(0.68)] },
  { col: 4, top: T[6], h: 141, x: ax(0, 4, hrTicks4, hrLabels4, HRS),
    y: ax(20, 40, [20, 25, 30, 35, 37, 40], ['20', '', '30', '', '37', '40'], TEMP, [37]),
    series: [red(m18PwrT, m18PwrY)], notes: [txt('Ambient temp. 20°C', 0.963, 0.116)] },

  // extra panels under MCO-18M
  { col: 3, top: 1680, h: 141, x: ax(0, 40, minTicks, minLabels, MINS),
    y: ax(0, 25, [0, 5, 10, 15, 20, 25], ['0', '5', '10', '15', '20', '25'], CO2L),
    series: [redDot(m18Co2bT30, m18Co2bY30), red(m18Co2bT60, m18Co2bY60)], notes: [legStd(0.1)] },
  { col: 4, top: 1680, h: 141, x: ax(0, 40, minTicks, minLabels, MINS),
    y: ax(0, 25, [0, 5, 10, 15, 20, 25], ['0', '5', '10', '15', '20', '25'], O2L),
    series: [redDot(m18O2T30, m18O2Y30), red(m18O2T60, m18O2Y60)], notes: [legStd(0.1)] }
];

const page = document.getElementById('page');
function build(spec) {
  const extra = spec.extra || 0;
  const w = 272, h = 10 + spec.h + 40 + extra;
  const cv = document.createElement('canvas');
  cv.width = w; cv.height = h;
  cv.style.left = COLS[spec.col] + 'px';
  cv.style.top = (spec.top - 10) + 'px';
  cv.style.width = w + 'px'; cv.style.height = h + 'px';
  cv.spec = spec;
  page.appendChild(cv);
  new Chart(cv, {
    type: 'line',
    data: { datasets: spec.series },
    options: {
      responsive: false, animation: false, events: [],
      layout: { padding: { top: 10, right: 12, bottom: extra, left: 0 } },
      plugins: { legend: { display: false }, tooltip: { enabled: false } },
      scales: { x: scaleOpts(spec.x, true), y: scaleOpts(spec.y, false) }
    },
    plugins: [paper]
  });
}
charts.forEach(build);
</script>
</body>
</html>
